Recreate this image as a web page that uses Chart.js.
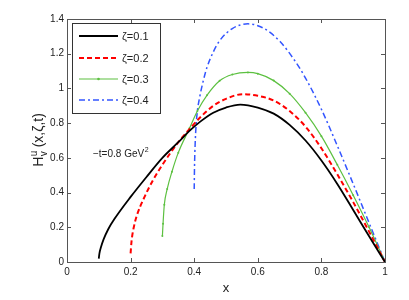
<!DOCTYPE html>
<html>
<head>
<meta charset="utf-8">
<script src="https://cdn.jsdelivr.net/npm/chart.js@4"></script>
<style>
html, body { margin: 0; padding: 0; background: #fff; }
</style>
</head>
<body>
<canvas id="myChart" width="409" height="300"></canvas>
<script>
// values
const labels = ["ζ=0.1", "ζ=0.2", "ζ=0.3", "ζ=0.4"];

const x1 = [0.1, 0.102, 0.106, 0.115, 0.13, 0.15, 0.2, 0.25, 0.3, 0.35, 0.385, 0.42, 0.46, 0.5, 0.545, 0.6, 0.65, 0.7, 0.75, 0.8, 0.85, 0.9, 0.95, 1];
const y1 = [0.02, 0.05, 0.08, 0.13, 0.19, 0.25, 0.375, 0.49, 0.6, 0.69, 0.755, 0.81, 0.86, 0.89, 0.907, 0.89, 0.855, 0.79, 0.7, 0.585, 0.45, 0.3, 0.148, 0];

const x2 = [0.2, 0.203, 0.21, 0.22, 0.24, 0.27, 0.3, 0.35, 0.385, 0.42, 0.46, 0.5, 0.553, 0.6, 0.65, 0.7, 0.75, 0.8, 0.85, 0.9, 0.95, 1];
const y2 = [0.05, 0.12, 0.2, 0.27, 0.36, 0.47, 0.56, 0.69, 0.765, 0.835, 0.9, 0.94, 0.967, 0.958, 0.93, 0.87, 0.78, 0.655, 0.505, 0.345, 0.175, 0];

const x3 = [0.3, 0.302, 0.306, 0.315, 0.33, 0.35, 0.385, 0.41, 0.44, 0.48, 0.52, 0.569, 0.6, 0.65, 0.7, 0.75, 0.8, 0.85, 0.9, 0.95, 1];
const y3 = [0.15, 0.22, 0.33, 0.42, 0.52, 0.63, 0.77, 0.87, 0.96, 1.044, 1.08, 1.092, 1.085, 1.045, 0.97, 0.86, 0.725, 0.56, 0.385, 0.2, 0];

const x4 = [0.4, 0.401, 0.403, 0.406, 0.41, 0.417, 0.428, 0.44, 0.46, 0.48, 0.52, 0.569, 0.62, 0.67, 0.72, 0.75, 0.8, 0.85, 0.9, 0.95, 1];
const y4 = [0.42, 0.55, 0.68, 0.79, 0.87, 0.948, 1.04, 1.12, 1.21, 1.275, 1.345, 1.372, 1.345, 1.27, 1.15, 1.06, 0.88, 0.67, 0.45, 0.225, 0];

const xTicks = [0, 0.2, 0.4, 0.6, 0.8, 1];
const yTicks = [0, 0.2, 0.4, 0.6, 0.8, 1, 1.2, 1.4];

const FONT = "'Liberation Sans', Arial, Helvetica, sans-serif";

function pts(xs, ys) {
  return xs.map((x, i) => ({x: x, y: ys[i]}));
}

const styles = [
  {color: "#000000", width: 1.8, dash: [], dot: 0},
  {color: "#ff0000", width: 2, dash: [5, 3], dot: 0},
  {color: "#5cc040", width: 1.2, dash: [], dot: 1},
  {color: "#3355ff", width: 1.5, dash: [6, 3, 2, 3], dot: 0}
];
const series = [[x1, y1], [x2, y2], [x3, y3], [x4, y4]];

const datasets = series.map((s, i) => ({
  label: labels[i],
  data: pts(s[0], s[1]),
  showLine: true,
  borderColor: styles[i].color,
  backgroundColor: styles[i].color,
  borderWidth: styles[i].width,
  borderDash: styles[i].dash,
  pointRadius: styles[i].dot,
  pointBorderWidth: 0,
  cubicInterpolationMode: "monotone",
  fill: false
}));

const framePlugin = {
  id: "frame",
  afterDraw(chart) {
    const ctx = chart.ctx;
    const a = chart.chartArea;
    const xs = chart.scales.x, ys = chart.scales.y;
    ctx.save();
    // box + inward ticks
    ctx.strokeStyle = "#555";
    ctx.lineWidth = 1;
    ctx.setLineDash([]);
    ctx.strokeRect(a.left + 0.5, a.top + 0.5, a.right - a.left, a.bottom - a.top);
    ctx.beginPath();
    xTicks.forEach(v => {
      const p = Math.round(xs.getPixelForValue(v)) + 0.5;
      ctx.moveTo(p, a.bottom); ctx.lineTo(p, a.bottom - 4);
      ctx.moveTo(p, a.top); ctx.lineTo(p, a.top + 4);
    });
    yTicks.forEach(v => {
      const p = Math.round(ys.getPixelForValue(v)) + 0.5;
      ctx.moveTo(a.left, p); ctx.lineTo(a.left + 4, p);
      ctx.moveTo(a.right, p); ctx.lineTo(a.right - 4, p);
    });
    ctx.stroke();

    // legend box
    const lx = 72, ly = 23, lw = 88, lh = 90;
    ctx.fillStyle = "#fff";
    ctx.fillRect(lx, ly, lw, lh);
    ctx.strokeStyle = "#333";
    ctx.strokeRect(lx + 0.5, ly + 0.5, lw, lh);
    const rows = [36, 58, 79, 100];
    chart.data.datasets.forEach((d, i) => {
      const y = rows[i];
      ctx.strokeStyle = d.borderColor;
      ctx.lineWidth = d.borderWidth;
      ctx.setLineDash(d.borderDash);
      ctx.beginPath();
      ctx.moveTo(79, y); ctx.lineTo(118, y);
      ctx.stroke();
      ctx.setLineDash([]);
      if (d.pointRadius > 0) {
        ctx.fillStyle = d.borderColor;
        ctx.beginPath(); ctx.arc(98.5, y, 1.3, 0, Math.PI * 2); ctx.fill();
      }
      ctx.fillStyle = "#222";
      ctx.font = "11px " + FONT;
      ctx.textBaseline = "middle";
      ctx.textAlign = "left";
      ctx.fillText(d.label, 122, y + 0.5);
    });

    // annotation
    ctx.fillStyle = "#222";
    ctx.font = "10px " + FONT;
    ctx.textBaseline = "alphabetic";
    const t1 = "\u2212t=0.8 GeV";
    ctx.fillText(t1, 93, 157);
    const w1 = ctx.measureText(t1).width;
    ctx.font = "7px " + FONT;
    ctx.fillText("2", 93 + w1 + 0.5, 152);

    // y axis title H^u_v (x,ζ,t)
    ctx.translate(43, 140);
    ctx.rotate(-Math.PI / 2);
    ctx.font = "14px " + FONT;
    const wH = ctx.measureText("H").width;
    ctx.font = "10px " + FONT;
    const wS = Math.max(ctx.measureText("u").width, ctx.measureText("v").width);
    ctx.font = "14px " + FONT;
    const rest = " (x,\u03b6,t)";
    const wR = ctx.measureText(rest).width;
    let x0 = -(wH + wS + wR) / 2;
    ctx.font = "14px " + FONT;
    ctx.fillText("H", x0, 0);
    ctx.font = "10px " + FONT;
    ctx.fillText("u", x0 + wH + 0.5, -6.5);
    ctx.fillText("v", x0 + wH + 0.5, 3.5);
    ctx.font = "14px " + FONT;
    ctx.fillText(rest, x0 + wH + wS, 0);
    ctx.restore();
  }
};

const fmt = v => String(Math.round(v * 10) / 10);

new Chart("myChart", {
  type: "scatter",
  data: {datasets: datasets},
  options: {
    responsive: false,
    animation: false,
    layout: {padding: {top: 19, right: 24, left: 0, bottom: 0}},
    plugins: {
      legend: {display: false},
      tooltip: {enabled: false}
    },
    scales: {
      x: {
        type: "linear",
        min: 0, max: 1,
        afterFit: s => { s.height = 38; },
        afterBuildTicks: s => { s.ticks = xTicks.map(v => ({value: v})); },
        grid: {display: false, drawTicks: false, tickLength: 0},
        border: {display: false},
        ticks: {padding: 4, color: "#222", font: {family: FONT, size: 10}, maxRotation: 0, callback: fmt},
        title: {display: true, text: "x", color: "#222", font: {family: FONT, size: 13}, padding: {top: 1}}
      },
      y: {
        type: "linear",
        min: 0, max: 1.4,
        afterFit: s => { s.width = 67; },
        afterBuildTicks: s => { s.ticks = yTicks.map(v => ({value: v})); },
        grid: {display: false, drawTicks: false, tickLength: 0},
        border: {display: false},
        ticks: {padding: 3, color: "#222", font: {family: FONT, size: 10}, callback: fmt}
      }
    }
  },
  plugins: [framePlugin]
});
</script>
</body>
</html>
